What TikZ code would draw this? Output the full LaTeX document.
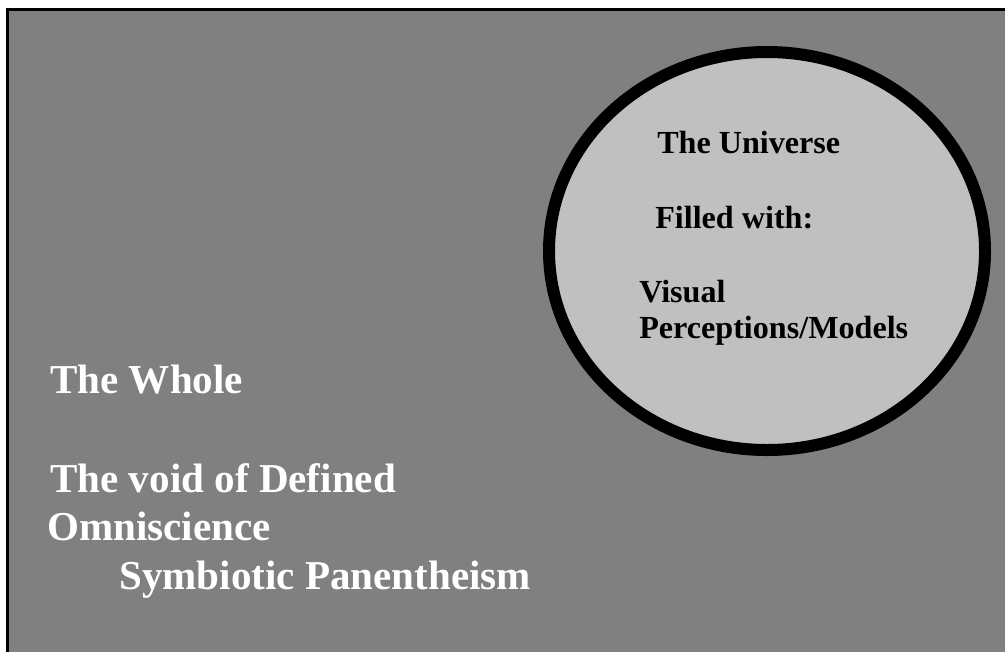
\documentclass[tikz,border=0pt]{standalone}
\usepackage{fontspec}
\setmainfont{Liberation Serif}
\usetikzlibrary{positioning,shapes.geometric}

\begin{document}
\begin{tikzpicture}[x=.75pt,y=-.75pt,
 whole/.style={anchor=base west,inner sep=0pt,font=\fontsize{30.8}{37}\selectfont\bfseries,text=white},
 inside/.style={anchor=base west,inner sep=0pt,font=\fontsize{24.1}{28}\selectfont\bfseries,text=black}]
\definecolor{voidgray}{HTML}{808080}
\definecolor{unigray}{HTML}{C0C0C0}
\useasboundingbox (0,0) rectangle (1005,651);
\clip (0,0) rectangle (1005,651);
\fill[white] (0,0) rectangle (1005,651);
\draw[line width=2.25pt,fill=voidgray] (7.5,9) rectangle (1030,680);
\node[draw,ellipse,line width=9pt,fill=unigray,minimum width=327pt,minimum height=298.5pt,inner sep=0pt] (universe) at (767,251) {};
\node[inside] (uni) at (657,153) {The Universe};
\node[inside] (filled) at (655,228) {Filled with:};
\node[inside] (visual) at (639,302) {Visual};
\node[inside] (models) at (639,338) {Perceptions/Models};
\node[whole] (thewhole) at (50,393) {The Whole};
\node[whole] (void) at (50,492) {The void of Defined};
\node[whole] (omni) at (47,540) {Omniscience};
\node[whole] (symb) at (119,589) {Symbiotic Panentheism};
\end{tikzpicture}
\end{document}
